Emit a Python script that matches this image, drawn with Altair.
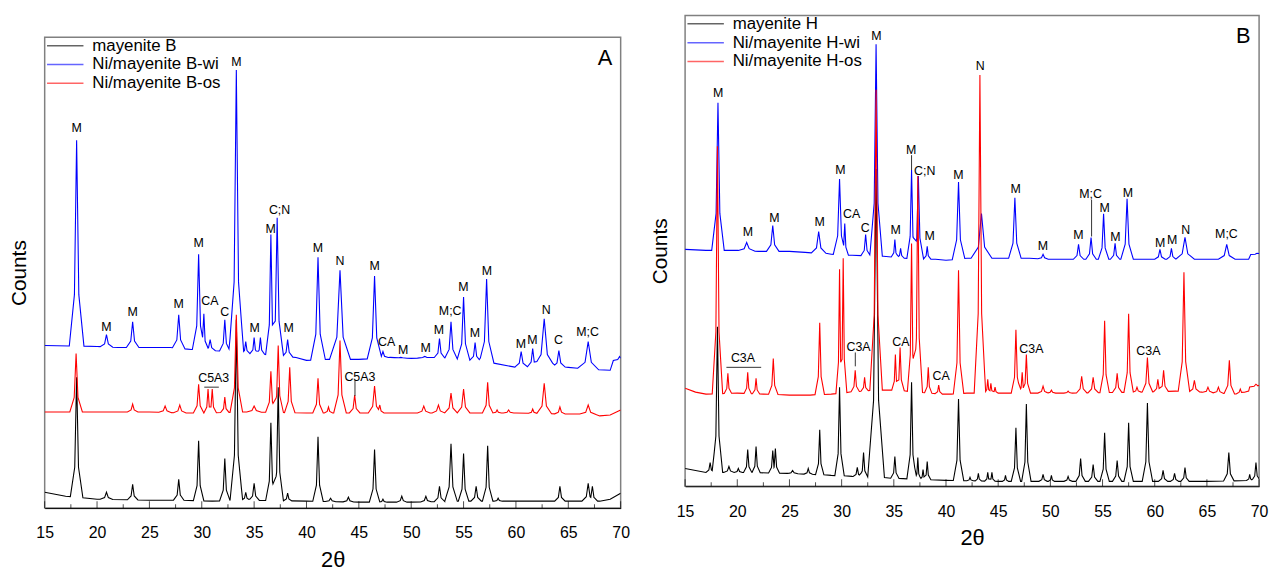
import altair as alt
import numpy as np
import pandas as pd

FONT = "Liberation Sans"

# ---------------- Panel A data (2theta in degrees, counts in arbitrary units) ----------------
a_names = ["mayenite B", "Ni/mayenite B-wi", "Ni/mayenite B-os"]

a_black_base = [(15, 16), (17, 12), (20, 9), (25, 8), (28, 8), (31, 7), (34, 8), (40, 7), (45, 6),
                (50, 6), (55, 7), (60, 7), (65, 7), (68, 7), (69, 9), (70, 15)]
a_black_peaks = [(18.05, 132, 0.6), (20.9, 16, 0.6), (23.4, 24, 0.5), (27.8, 29, 0.5), (29.7, 68, 0.5),
                 (32.2, 50, 0.5), (33.3, 190, 0.6), (34.2, 16, 0.4), (35.0, 25, 0.5), (36.6, 86, 0.5),
                 (37.3, 122, 0.5), (38.2, 15, 0.4), (41.1, 72, 0.5), (42.3, 10, 0.5), (44.0, 11, 0.5),
                 (46.5, 59, 0.5), (47.3, 9, 0.4), (49.1, 12, 0.5), (51.4, 12, 0.5), (52.7, 22, 0.5),
                 (53.8, 65, 0.6), (55.0, 55, 0.5), (56.2, 22, 0.5), (57.3, 63, 0.5), (58.3, 10, 0.4),
                 (64.2, 22, 0.5), (66.9, 25, 0.6), (67.3, 22, 0.5)]

a_blue_base = [(15, 164), (20, 163), (22, 162), (25, 162), (27, 162), (29, 160), (31, 159), (32.5, 158),
               (34, 156), (36, 155), (39, 152), (40, 149), (42, 150), (45, 150), (48, 152), (50, 151),
               (52, 152), (55, 150), (58, 146), (60, 142), (62, 143), (65, 142), (67, 140), (69, 139),
               (70, 150)]
a_blue_peaks = [(18.05, 371, 0.7), (20.9, 175, 0.6), (23.4, 188, 0.6), (27.8, 195, 0.6), (29.7, 256, 0.6),
                (30.2, 196, 0.4), (30.8, 170, 0.5), (32.2, 190, 0.5), (33.3, 442, 0.7), (34.2, 168, 0.4),
                (35.0, 172, 0.4), (35.6, 172, 0.4), (36.6, 276, 0.5), (37.2, 293, 0.6), (38.2, 170, 0.5),
                (41.1, 253, 0.7), (43.2, 240, 1.0), (46.5, 234, 0.7), (47.3, 158, 0.5), (49.0, 152, 0.6),
                (51.3, 153, 0.7), (52.7, 171, 0.5), (53.8, 188, 0.6), (55.0, 213, 0.6), (56.1, 167, 0.5),
                (57.2, 231, 0.7), (60.5, 158, 0.6), (61.6, 161, 0.5), (62.7, 191, 1.0), (64.1, 159, 0.6),
                (66.9, 168, 1.0), (69.9, 153, 0.6)]

a_red_base = [(15, 97), (20, 97), (25, 97), (28, 96), (31, 96), (34, 97), (40, 96), (45, 96), (50, 96),
              (55, 96), (60, 96), (64, 95), (66, 95), (68, 93), (69, 94), (70, 99)]
a_red_peaks = [(18.0, 156, 0.6), (23.4, 105, 0.5), (26.5, 103, 0.6), (27.9, 104, 0.6), (29.7, 125, 0.5),
               (30.6, 120, 0.4), (31.0, 120, 0.4), (32.2, 112, 0.4), (33.3, 195, 0.6), (35.0, 103, 0.7),
               (36.6, 138, 0.5), (37.3, 164, 0.5), (38.4, 142, 0.5), (41.1, 131, 0.5), (42.1, 102, 0.4),
               (43.2, 169, 0.6), (44.6, 114, 0.5), (46.5, 123, 0.6), (47.0, 104, 0.4), (51.2, 103, 0.6),
               (52.6, 104, 0.6), (53.8, 116, 0.6), (55.0, 120, 0.6), (57.3, 127, 0.5), (58.2, 99, 0.4),
               (59.3, 99, 0.5), (61.6, 100, 0.4), (62.7, 126, 0.7), (64.2, 102, 0.5), (66.9, 104, 0.8)]

a_labels = [(18.05, 383, "M"), (20.9, 183, "M"), (23.4, 198, "M"), (27.8, 206, "M"), (29.7, 267, "M"),
            (30.78, 209, "CA"), (32.2, 198, "C"), (33.3, 450, "M"), (35.04, 182, "M"), (36.58, 282, "M"),
            (37.43, 301, "C;N"), (38.29, 182, "M"), (41.1, 262, "M"), (43.2, 249, "N"), (46.5, 244, "M"),
            (47.66, 168, "CA"), (49.24, 159, "M"), (51.38, 161, "M"), (52.65, 180, "M"), (53.72, 199, "M;C"),
            (54.98, 223, "M"), (56.08, 177, "M"), (57.22, 239, "M"), (60.47, 166, "M"), (61.57, 170, "M"),
            (62.9, 200, "N"), (64.06, 170, "C"), (66.84, 178, "M;C"), (31.14, 131, "C5A3"),
            (45.1, 132, "C5A3")]
a_rules = [(30.24, 31.63, 122, 122), (44.63, 44.63, 113, 129)]
a_letter = [(68.5, 454, "A")]

# ---------------- Panel B data ----------------
b_names = ["mayenite H", "Ni/mayenite H-wi", "Ni/mayenite H-os"]

b_black_base = [(15, 18), (17, 14), (20, 14), (25, 13), (29, 11), (31, 10), (35, 8), (40, 6), (45, 5),
                (50, 5), (55, 5), (60, 5), (65, 5), (70, 6)]
b_black_peaks = [(17.4, 24, 0.4), (18.1, 161, 0.5), (19.2, 20, 0.5), (20.1, 18, 0.4), (21.0, 37, 0.4),
                 (21.8, 40, 0.4), (23.4, 36, 0.4), (23.65, 38, 0.4), (25.3, 16, 0.5), (26.8, 18, 0.4),
                 (27.9, 57, 0.4), (29.8, 100, 0.45), (31.5, 19, 0.4), (32.1, 34, 0.4), (33.3, 320, 0.8),
                 (35.1, 30, 0.4), (36.7, 105, 0.45), (37.3, 29, 0.3), (37.8, 17, 0.3), (38.2, 25, 0.35),
                 (41.2, 88, 0.5), (42.3, 9, 0.3), (43.1, 13, 0.3), (44.0, 14, 0.3), (44.4, 14, 0.3),
                 (45.7, 11, 0.3), (46.7, 59, 0.45), (47.7, 83, 0.45), (49.3, 12, 0.4), (50.1, 11, 0.3),
                 (51.7, 10, 0.4), (52.9, 28, 0.45), (54.1, 22, 0.45), (55.2, 54, 0.45), (56.4, 26, 0.45),
                 (57.5, 64, 0.45), (59.3, 84, 0.5), (60.8, 16, 0.45), (61.9, 13, 0.4), (62.9, 19, 0.4),
                 (67.1, 34, 0.5), (69.1, 12, 0.3), (69.7, 24, 0.4)]

b_blue_base = [(15, 239), (17, 238), (20, 238), (22, 237), (25, 237), (26.5, 236), (29, 234), (31, 233),
               (34, 232), (36, 230), (39, 229), (40, 228), (42, 230), (45, 230), (48, 230), (50, 229),
               (52, 229), (58, 229), (64, 229), (68, 229), (69, 229), (70, 235)]
b_blue_peaks = [(18.15, 387, 0.6), (20.9, 246, 0.8), (23.4, 263, 0.6), (27.8, 257, 0.7), (29.8, 310, 0.6),
                (30.3, 265, 0.35), (32.3, 254, 0.45), (33.3, 446, 0.6), (35.1, 249, 0.35),
                (35.65, 240, 0.35), (36.7, 319, 0.45), (37.35, 313, 0.5), (38.2, 242, 0.35),
                (41.2, 307, 0.6), (43.4, 275, 1.0), (46.6, 291, 0.6), (49.3, 234, 0.5), (52.7, 244, 0.5),
                (53.9, 251, 0.5), (55.1, 275, 0.5), (56.2, 245, 0.45), (57.35, 290, 0.6), (60.5, 239, 0.5),
                (61.6, 240, 0.45), (62.9, 251, 0.9), (66.9, 244, 0.8), (69.8, 235, 0.6)]

b_red_base = [(15, 99), (16, 95), (17, 93), (20, 94), (22.5, 93), (25, 92), (27, 92), (29, 93), (31, 95),
              (33, 97), (35, 97), (39.5, 93), (40.5, 93), (42, 94), (45, 94), (48.5, 94), (50.5, 94),
              (52, 94), (58.7, 95), (62, 96), (64.5, 95), (66, 94), (68, 93), (69, 96), (70, 102)]
b_red_peaks = [(18.1, 343, 0.5), (19.1, 114, 0.35), (21.0, 115, 0.35), (21.8, 109, 0.35), (23.45, 129, 0.45),
               (27.9, 165, 0.45), (29.8, 219, 0.35), (30.15, 230, 0.35), (31.3, 117, 0.4), (32.2, 110, 0.35),
               (33.3, 400, 0.6), (35.15, 133, 0.35), (35.6, 140, 0.4), (36.7, 245, 0.4), (37.3, 313, 0.45),
               (38.3, 120, 0.35), (39.3, 102, 0.35), (41.2, 218, 0.5), (43.25, 415, 0.55), (44.0, 108, 0.3),
               (44.3, 104, 0.3), (44.7, 100, 0.3), (46.7, 158, 0.45), (47.3, 115, 0.35), (47.7, 133, 0.4),
               (49.3, 101, 0.5), (50.1, 97, 0.4), (51.7, 96, 0.4), (53.0, 111, 0.5), (54.1, 110, 0.5),
               (55.2, 167, 0.45), (56.4, 114, 0.45), (57.5, 174, 0.45), (58.3, 100, 0.4), (59.3, 130, 0.5),
               (60.3, 108, 0.4), (60.85, 117, 0.45), (62.8, 216, 0.55), (63.8, 107, 0.5), (65.1, 100, 0.5),
               (66.1, 100, 0.5), (67.15, 127, 0.5), (68.2, 98, 0.4), (69.7, 103, 0.6)]

b_labels = [(18.16, 397, "M"), (21.01, 256, "M"), (23.55, 271, "M"), (27.89, 267, "M"), (29.88, 319, "M"),
            (30.96, 275, "CA"), (32.26, 261, "C"), (33.33, 454, "M"), (35.17, 258, "M"), (36.66, 339, "M"),
            (37.96, 318, "C;N"), (38.43, 252, "M"), (41.19, 314, "M"), (43.28, 424, "N"), (46.67, 300, "M"),
            (49.29, 242, "M"), (52.68, 253, "M"), (53.85, 295, "M;C"), (55.21, 281, "M"), (56.23, 251, "M"),
            (57.43, 296, "M"), (60.53, 245, "M"), (61.67, 248, "M"), (62.97, 259, "N"), (66.87, 254, "M;C"),
            (20.54, 129, "C3A"), (31.62, 140, "C3A"), (35.68, 146, "CA"), (39.54, 111, "CA"),
            (48.18, 138, "C3A"), (59.39, 136, "C3A")]
b_rules = [(18.96, 22.29, 120, 120), (31.31, 31.31, 121, 135), (36.7, 36.7, 319, 334),
           (53.95, 53.95, 252, 289)]
b_letter = [(68.48, 454, "B")]

major_ticks = [15, 20, 25, 30, 35, 40, 45, 50, 55, 60, 65, 70]
minor_ticks = [17.5, 22.5, 27.5, 32.5, 37.5, 42.5, 47.5, 52.5, 57.5, 62.5, 67.5]

colors = ["#000000", "#0000ff", "#ff0000"]
X_DOM = [15, 70]
Y_DOM = [0, 475]


def trace(baseline, peaks):
    bx = np.array([p[0] for p in baseline], float)
    by = np.array([p[1] for p in baseline], float)
    offs = [-1.0, -0.3, 0.0, 0.3, 1.0]
    xs = list(bx)
    for pos, h, w in peaks:
        xs += [pos + o * w for o in offs]
    xs = np.unique(np.clip(np.array(xs), 15, 70))
    ys = np.interp(xs, bx, by)
    for pos, h, w in peaks:
        b0 = np.interp(pos, bx, by)
        d = np.abs(xs - pos) / w
        frac = np.interp(d, [0, 0.3, 1.0], [1.0, 0.25, 0.0])
        contrib = np.where(d < 1.0, b0 + (h - b0) * frac, -1e9)
        ys = np.maximum(ys, contrib)
    return xs, ys


def series_df(names, parts):
    frames = []
    for name, (base, peaks) in zip(names, parts):
        xs, ys = trace(base, peaks)
        frames.append(pd.DataFrame({"x": xs, "y": ys, "series": name}))
    return pd.concat(frames, ignore_index=True)


xs_scale = alt.Scale(domain=X_DOM, nice=False, zero=False)
ys_scale = alt.Scale(domain=Y_DOM, nice=False, zero=False)

x_axis = alt.Axis(title="2θ", values=major_ticks, ticks=False, grid=False,
                  labelFlush=False, labelFontSize=16, labelPadding=17,
                  labelFont=FONT, titleFont=FONT, titleFontSize=22,
                  titleFontWeight="normal", titlePadding=9,
                  domainColor="#000000", labelColor="#000000", titleColor="#000000")
y_axis = alt.Axis(title="Counts", labels=False, ticks=False, domain=False, grid=False,
                  titleFont=FONT, titleFontSize=21, titleFontWeight="normal",
                  titlePadding=15, titleColor="#000000")


def panel(names, parts, labels, rules, letter, width):
    df = series_df(names, parts)
    lines = alt.Chart(df).mark_line(strokeWidth=1.1, clip=True).encode(
        x=alt.X("x:Q", scale=xs_scale, axis=x_axis),
        y=alt.Y("y:Q", scale=ys_scale, axis=y_axis),
        color=alt.Color("series:N", scale=alt.Scale(domain=names, range=colors),
                        legend=alt.Legend(title=None, orient="top-left", offset=0, padding=0,
                                          symbolType="M-1,0H5", symbolSize=150,
                                          symbolStrokeWidth=1.5, symbolOpacity=0.6,
                                          labelFont=FONT, labelFontSize=17, labelColor="#000000",
                                          labelOffset=31, rowPadding=1)),
        detail="series:N",
    )
    lab_df = pd.DataFrame(labels, columns=["x", "y", "t"])
    texts = alt.Chart(lab_df).mark_text(font=FONT, fontSize=12.5, color="#000000").encode(
        x=alt.X("x:Q", scale=xs_scale, axis=x_axis),
        y=alt.Y("y:Q", scale=ys_scale, axis=y_axis),
        text="t:N",
    )
    rule_df = pd.DataFrame(rules, columns=["x", "x2", "y", "y2"])
    rls = alt.Chart(rule_df).mark_rule(color="#333333", strokeWidth=1).encode(
        x=alt.X("x:Q", scale=xs_scale, axis=x_axis), x2="x2:Q",
        y=alt.Y("y:Q", scale=ys_scale, axis=y_axis), y2="y2:Q",
    )
    let_df = pd.DataFrame(letter, columns=["x", "y", "t"])
    let = alt.Chart(let_df).mark_text(font=FONT, fontSize=22, color="#000000").encode(
        x=alt.X("x:Q", scale=xs_scale, axis=x_axis),
        y=alt.Y("y:Q", scale=ys_scale, axis=y_axis),
        text="t:N",
    )
    maj = alt.Chart(pd.DataFrame({"x": major_ticks, "y": [0] * len(major_ticks)})).mark_tick(
        orient="vertical", size=7, thickness=1, color="#000000", yOffset=-3.5).encode(
        x=alt.X("x:Q", scale=xs_scale, axis=x_axis),
        y=alt.Y("y:Q", scale=ys_scale, axis=y_axis),
    )
    mnr = alt.Chart(pd.DataFrame({"x": minor_ticks, "y": [0] * len(minor_ticks)})).mark_tick(
        orient="vertical", size=4, thickness=1, color="#000000", yOffset=-2).encode(
        x=alt.X("x:Q", scale=xs_scale, axis=x_axis),
        y=alt.Y("y:Q", scale=ys_scale, axis=y_axis),
    )
    return alt.layer(lines, rls, texts, let, maj, mnr).properties(width=width, height=475)


panel_a = panel(a_names, [(a_black_base, a_black_peaks), (a_blue_base, a_blue_peaks),
                          (a_red_base, a_red_peaks)], a_labels, a_rules, a_letter, 581)
panel_b = panel(b_names, [(b_black_base, b_black_peaks), (b_blue_base, b_blue_peaks),
                          (b_red_base, b_red_peaks)], b_labels, b_rules, b_letter, 579)

# empty spacer view that pushes panel A down
spacer = alt.Chart(pd.DataFrame({"s": [0]})).mark_point(opacity=0).encode(
    x=alt.X("s:Q", axis=None), y=alt.Y("s:Q", axis=None)
).properties(width=581, height=21, view=alt.ViewBackground(strokeOpacity=0))

col_a = alt.vconcat(spacer, panel_a, spacing=0).resolve_scale(
    x="independent", y="independent", color="independent")

chart = alt.hconcat(col_a, panel_b, spacing=18).resolve_scale(
    color="independent", x="independent", y="independent"
).resolve_legend(color="independent").properties(
    padding={"left": 0, "top": 4, "right": 0, "bottom": 0}
).configure_view(stroke="#808080", strokeWidth=1.5)

chart.save("out.html", embed_options={"renderer": "svg", "actions": False})
